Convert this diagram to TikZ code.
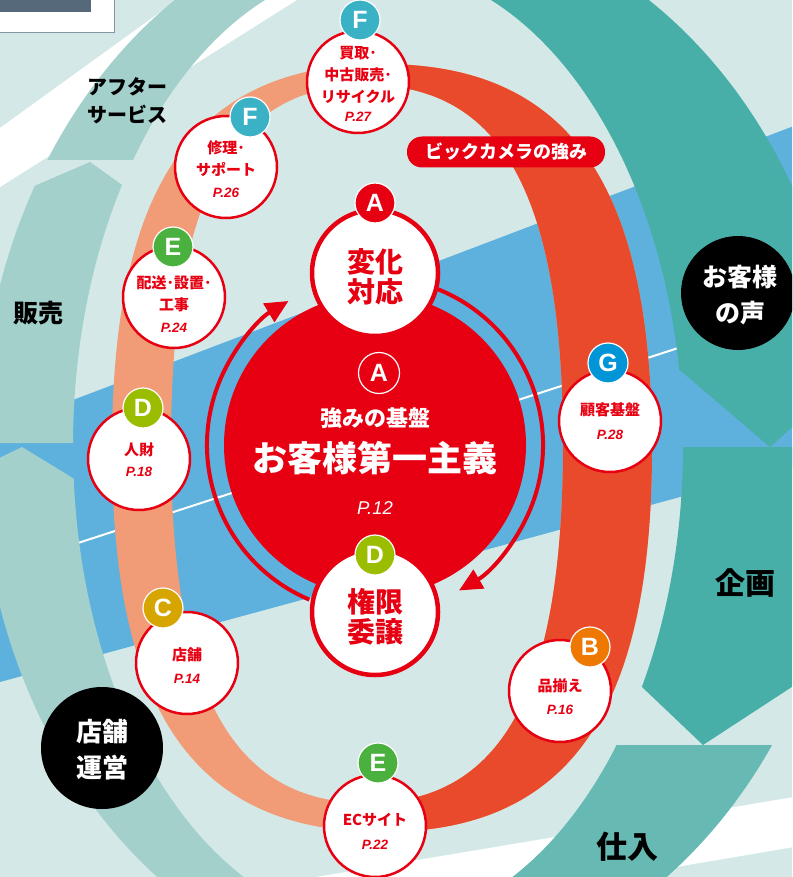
\documentclass[tikz,border=0pt]{standalone}
\usepackage{fontspec}
\setmainfont{Liberation Sans}
\newfontfamily\jp{Noto Sans CJK JP}
\usetikzlibrary{arrows.meta}
\definecolor{bgmint}{HTML}{D4E9E7}
\definecolor{bandblue}{HTML}{5EB1DD}
\definecolor{tealdark}{HTML}{48AFA8}
\definecolor{tealmid}{HTML}{67B9B3}
\definecolor{teallight}{HTML}{A4D0CC}
\definecolor{bicred}{HTML}{E60012}
\definecolor{ringsalmon}{HTML}{F29C77}
\definecolor{ringred}{HTML}{E84A2B}
\definecolor{bF}{HTML}{3BB1C6}
\definecolor{bE}{HTML}{4AB03E}
\definecolor{bD}{HTML}{9BBD00}
\definecolor{bC}{HTML}{D6A500}
\definecolor{bB}{HTML}{EE7800}
\definecolor{bG}{HTML}{0095D6}
\definecolor{boxhead}{HTML}{56697A}
\definecolor{boxline}{HTML}{8496A4}
\tikzset{
  badge/.style={circle, fill=#1, draw=white, line width=1.2pt, minimum size=40pt, inner sep=0pt, text=white, font=\bfseries\fontsize{25}{25}\selectfont},
  smallc/.style={circle, draw=bicred, line width=2.5pt, fill=white, minimum size=102pt, inner sep=0pt},
  bigc/.style={circle, draw=bicred, line width=4.5pt, fill=white, minimum size=126pt, inner sep=0pt},
  ctext/.style={text=bicred, font=\jp\bfseries\fontsize{15}{22}\selectfont, align=center, inner sep=0pt},
  pg/.style={text=bicred, font=\bfseries\itshape\fontsize{13.5}{14}\selectfont, inner sep=0pt},
  bigtext/.style={text=bicred, font=\jp\bfseries\fontsize{28}{30}\selectfont, align=center, inner sep=0pt},
  blacklbl/.style={text=black, font=\jp\bfseries\fontsize{#1}{#1}\selectfont, align=center, inner sep=0pt},
  whitelbl/.style={text=white, font=\jp\bfseries\fontsize{25}{36}\selectfont, align=center, inner sep=0pt},
  arrowring/.style={bicred, line width=4pt, -{Triangle[length=23pt,width=21pt]}}
}
\begin{document}
\begin{tikzpicture}[x=1pt,y=-1pt]
\useasboundingbox (0,0) rectangle (792,877);
\clip (0,0) rectangle (792,877);
% background
\fill[bgmint] (0,0) rectangle (792,877);
% white diagonal stripes
\fill[white] (0,128) -- (177,0) -- (297,0) -- (0,187) -- cycle;
\fill[white] (280,883) -- (800,796) -- (800,846) -- (540,890) -- cycle;
% blue band
\fill[bandblue] (-10,431.5) -- (800,123.7) -- (800,464.4) -- (-10,684.7) -- cycle;
\draw[white, line width=2pt] (-10,571.6) -- (800,308.4);
% outer cycle bands
\begin{scope}
\clip (-100,160) -- (200,160) -- (450,-100) -- (-100,-100) -- cycle;
\fill[teallight, even odd rule] (415,446) ellipse [x radius=435, y radius=535] (378,446) ellipse [x radius=305, y radius=480];
\end{scope}
\begin{scope}
\clip (-100,443) -- (200,443) -- (200,241) -- (90,162) -- (-100,244) -- cycle;
\fill[teallight, even odd rule] (415,446) ellipse [x radius=435, y radius=535] (378,446) ellipse [x radius=305, y radius=480];
\end{scope}
\begin{scope}
\clip (-100,506) -- (22,447) -- (150,525) -- (380,1000) -- (-100,1000) -- cycle;
\fill[teallight, even odd rule] (415,446) ellipse [x radius=435, y radius=535] (378,446) ellipse [x radius=305, y radius=480];
\end{scope}
\begin{scope}
\clip (430,-100) -- (1000,-100) -- (1000,240) -- (770,447) -- (600,302) -- cycle;
\fill[tealdark, even odd rule] (403,446) ellipse [x radius=445, y radius=535] (378,446) ellipse [x radius=305, y radius=480];
\end{scope}
\begin{scope}
\clip (600,447) -- (1000,447) -- (1000,551) -- (703,745) -- (560,609) -- cycle;
\fill[tealdark, even odd rule] (403,446) ellipse [x radius=445, y radius=535] (378,446) ellipse [x radius=305, y radius=480];
\end{scope}
\begin{scope}
\clip (400,745) -- (1000,745) -- (1000,1000) -- (400,1000) -- cycle;
\fill[tealmid, even odd rule] (403,446) ellipse [x radius=445, y radius=535] (378,446) ellipse [x radius=305, y radius=480];
\end{scope}
% band labels
\node[blacklbl=20, font=\jp\bfseries\fontsize{20}{28}\selectfont] (after) at (127,101) {アフター\\サービス};
\node[blacklbl=25] (hanbai) at (38,313) {販売};
\node[blacklbl=30] (kikaku) at (745,583) {企画};
\node[blacklbl=31] (shiire) at (627,847) {仕入};
% black circles
\node[circle, fill=black, minimum size=114pt, inner sep=0pt] (voicec) at (738,293) {};
\node[whitelbl] (voice) at (740,295) {お客様\\の声};
\node[circle, fill=black, minimum size=122pt, inner sep=0pt] (storec) at (102,748) {};
\node[whitelbl, font=\jp\bfseries\fontsize{26}{36}\selectfont] (store) at (102,750) {店舗\\運営};
% strength ring
\fill[ringsalmon, even odd rule]
  (652,448) .. controls (652,713) and (568.3,832) .. (382,832)
  .. controls (195.7,832) and (112,713) .. (112,448)
  .. controls (112,183) and (195.7,64) .. (382,64)
  .. controls (568.3,64) and (652,183) .. (652,448) -- cycle
  (563,444) .. controls (563,691.7) and (502.2,803) .. (367,803)
  .. controls (231.8,803) and (171,691.7) .. (171,444)
  .. controls (171,196.3) and (231.8,85) .. (367,85)
  .. controls (502.2,85) and (563,196.3) .. (563,444) -- cycle;
\begin{scope}
\clip (370,0) rectangle (792,877);
\fill[ringred, even odd rule]
  (652,448) .. controls (652,713) and (568.3,832) .. (382,832)
  .. controls (195.7,832) and (112,713) .. (112,448)
  .. controls (112,183) and (195.7,64) .. (382,64)
  .. controls (568.3,64) and (652,183) .. (652,448) -- cycle
  (563,444) .. controls (563,691.7) and (502.2,803) .. (367,803)
  .. controls (231.8,803) and (171,691.7) .. (171,444)
  .. controls (171,196.3) and (231.8,85) .. (367,85)
  .. controls (502.2,85) and (563,196.3) .. (563,444) -- cycle;
\end{scope}
% label
\node[fill=bicred, rounded corners=15pt, minimum width=198pt, minimum height=31pt, inner sep=0pt, text=white, font=\jp\bfseries\fontsize{18}{18}\selectfont] (strength) at (506,152) {ビックカメラの強み};
% core
\node[circle, fill=bicred, minimum size=302pt, inner sep=0pt] (core) at (375,445) {};
\draw[arrowring] (core.center) ++(113:168) arc[start angle=113, end angle=239, radius=168];
\draw[arrowring] (core.center) ++(-68:168) arc[start angle=-68, end angle=60, radius=168];
\node[circle, fill=bicred, draw=white, line width=1.2pt, minimum size=41pt, inner sep=0pt, text=white, font=\bfseries\fontsize{25}{25}\selectfont] (coreA) at (379,373) {A};
\node[text=white, font=\jp\bfseries\fontsize{22}{22}\selectfont, inner sep=0pt] (base) at (375,418) {強みの基盤};
\node[text=white, font=\jp\bfseries\fontsize{35}{35}\selectfont, inner sep=0pt] (first) at (375,458) {お客様第一主義};
\node[text=white, font=\itshape\fontsize{18.5}{18.5}\selectfont, inner sep=0pt] (p12) at (375,508) {P.12};
% top and bottom big circles
\node[bigc] (henka) at (375,273) {};
\node[bigtext] (henkat) at (375,277) {変化\\対応};
\node[badge=bicred] (henkaA) at (375,203) {A};
\node[bigc] (kengen) at (375,612) {};
\node[bigtext] (kengent) at (375,617) {権限\\委譲};
\node[badge=bD] (kengenD) at (375,555) {D};
% small circles
\node[smallc] (c27) at (358,82) {};
\node[ctext] (t27) at (358,75) {買取･\\中古販売･\\リサイクル};
\node[pg] (p27) at (358,117) {P.27};
\node[badge=bF] (b27) at (360,20) {F};

\node[smallc] (c26) at (226,167) {};
\node[ctext] (t26) at (226,159) {修理･\\サポート};
\node[pg] (p26) at (226,193) {P.26};
\node[badge=bF] (b26) at (250,117) {F};

\node[smallc] (c24) at (174,297) {};
\node[ctext] (t24) at (174,294) {配送･設置･\\工事};
\node[pg] (p24) at (174,328) {P.24};
\node[badge=bE] (b24) at (173,247) {E};

\node[smallc] (c18) at (139,459) {};
\node[ctext] (t18) at (139,450) {人財};
\node[pg] (p18) at (139,472) {P.18};
\node[badge=bD] (b18) at (143,408) {D};

\node[smallc] (c14) at (187,663) {};
\node[ctext] (t14) at (187,655) {店舗};
\node[pg] (p14) at (187,679) {P.14};
\node[badge=bC] (b14) at (163,608) {C};

\node[smallc] (c22) at (375,826) {};
\node[ctext] (t22) at (375,820) {ECサイト};
\node[pg] (p22) at (375,845) {P.22};
\node[badge=bE] (b22) at (378,763) {E};

\node[smallc] (c16) at (560,691) {};
\node[ctext] (t16) at (560,686) {品揃え};
\node[pg] (p16) at (560,710) {P.16};
\node[badge=bB] (b16) at (590,647) {B};

\node[smallc] (c28) at (610,421) {};
\node[ctext] (t28) at (610,410) {顧客基盤};
\node[pg] (p28) at (610,435) {P.28};
\node[badge=bG] (b28) at (608,363) {G};
% top-left box
\node[draw=boxline, line width=1pt, fill=white, minimum width=116pt, minimum height=34pt, inner sep=0pt, anchor=north west] (box) at (-2,-2) {};
\fill[boxhead] (0,0) rectangle (91,12);
\end{tikzpicture}
\end{document}
